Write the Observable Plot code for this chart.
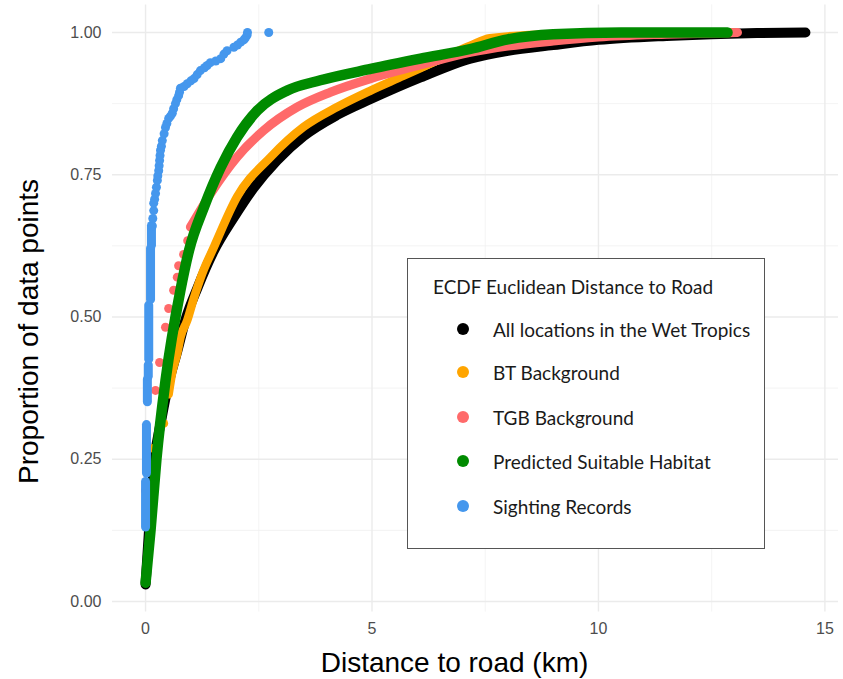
<!DOCTYPE html>
<html>
<head>
<meta charset="utf-8">
<script src="https://cdn.jsdelivr.net/npm/d3@7"></script>
<script src="https://cdn.jsdelivr.net/npm/@observablehq/plot@0.6"></script>
<style>
  body { margin: 0; background: #fff; }
  #wrap { position: relative; width: 843px; height: 679px; }
  #legend { position: absolute; left: 407px; top: 258px; width: 358px; height: 291px; box-sizing: border-box;
            border: 1px solid #555; background: #fff; font-family: Lato, "Open Sans", sans-serif; color: #1a1a1a; }
  #legend .t { position: absolute; left: 25px; font-size: 19px; line-height: 1; transform: translateY(-50%); white-space: nowrap; }
  #legend .k { position: absolute; left: 49px; width: 12px; height: 12px; border-radius: 50%; transform: translateY(-50%); }
  #legend .l { position: absolute; left: 85px; font-size: 19px; line-height: 1; transform: translateY(-50%); white-space: nowrap; }
</style>
</head>
<body>
<div id="wrap"></div>
<script>
// ---- data ----
const seriesNames = ["All locations in the Wet Tropics", "BT Background", "TGB Background", "Predicted Suitable Habitat", "Sighting Records"];
const seriesColors = ["#000000", "#FFA500", "#FF6A6A", "#008B00", "#4597ED"];
const legendTitle = "ECDF Euclidean Distance to Road";
const xTitle = "Distance to road (km)";
const yTitle = "Proportion of data points";

const xMajor = [0, 5, 10, 15];
const xMinor = [2.5, 7.5, 12.5];
const yMajor = [0, 0.25, 0.5, 0.75, 1];
const yMinor = [0.125, 0.375, 0.625, 0.875];
const xTickLabels = ["0", "5", "10", "15"];
const yTickLabels = ["0.00", "0.25", "0.50", "0.75", "1.00"];

// All locations in the Wet Tropics
const allX = [0, 0.08, 0.2, 0.35, 0.5, 0.7, 0.9, 1.14, 1.5, 1.95, 2.39, 2.9, 3.49, 4.23, 4.97, 6.07, 7.17, 8.0, 9.0, 10.0, 11.5, 12.5, 13.5, 14.57];
const allY = [0.03, 0.13, 0.25, 0.32, 0.38, 0.44, 0.5, 0.55, 0.615, 0.675, 0.727, 0.775, 0.818, 0.855, 0.883, 0.921, 0.954, 0.968, 0.978, 0.987, 0.994, 0.997, 0.999, 1.0];

// BT Background (dense part + sparse low points)
const btX = [0.51, 0.59, 0.7, 0.77, 0.92, 1.07, 1.25, 1.51, 2.02, 2.76, 3.49, 4.23, 4.97, 5.7, 6.44, 7.17, 7.6, 9.0, 11.0, 12.96];
const btY = [0.364, 0.403, 0.436, 0.464, 0.494, 0.534, 0.576, 0.623, 0.711, 0.781, 0.834, 0.869, 0.898, 0.924, 0.951, 0.977, 0.99, 0.997, 0.999, 1.0];
const btSparseX = [0.17, 0.40];
const btSparseY = [0.269, 0.313];

// TGB Background (dense part + sparse low points)
const tgbX = [0.99, 1.43, 2.02, 2.61, 3.35, 4.08, 4.97, 6.07, 7.17, 8.0, 9.0, 10.0, 11.5, 13.07];
const tgbY = [0.658, 0.716, 0.781, 0.828, 0.869, 0.895, 0.919, 0.943, 0.965, 0.976, 0.985, 0.992, 0.997, 1.0];
const tgbSparseX = [0.0, 0.22, 0.31, 0.44, 0.51, 0.62, 0.70, 0.73, 0.84, 0.93];
const tgbSparseY = [0.195, 0.371, 0.42, 0.482, 0.515, 0.547, 0.57, 0.59, 0.61, 0.634];

// Predicted Suitable Habitat
const psX = [0, 0.11, 0.24, 0.44, 0.77, 0.96, 1.29, 1.66, 2.02, 2.47, 3.13, 3.86, 4.97, 6.07, 7.17, 8.0, 9.0, 10.5, 12.85];
const psY = [0.033, 0.125, 0.25, 0.388, 0.547, 0.617, 0.693, 0.763, 0.816, 0.863, 0.898, 0.916, 0.936, 0.954, 0.971, 0.988, 0.997, 1.0, 1.0];

// Sighting Records: stacked runs near 0 km, then individual points
const srRunX = [0.0, 0.02, 0.04, 0.06, 0.07, 0.11, 0.13];
const srRunY1 = [0.13, 0.225, 0.35, 0.395, 0.425, 0.53, 0.625];
const srRunY2 = [0.21, 0.31, 0.39, 0.415, 0.52, 0.62, 0.66];
const srX = [0.15, 0.16, 0.18, 0.18, 0.2, 0.22, 0.24, 0.26, 0.27, 0.29, 0.3, 0.31, 0.32, 0.33, 0.35, 0.37, 0.41, 0.44, 0.47, 0.51, 0.55, 0.59, 0.62, 0.66, 0.69, 0.73, 0.75, 0.77, 0.85, 0.92, 1.0, 1.07, 1.14, 1.21, 1.3, 1.36, 1.43, 1.55, 1.66, 1.73, 1.8, 1.95, 2.03, 2.1, 2.17, 2.2, 2.24, 2.25, 2.72];
const srY = [0.66, 0.673, 0.687, 0.70, 0.707, 0.717, 0.728, 0.74, 0.748, 0.757, 0.766, 0.775, 0.784, 0.793, 0.80, 0.81, 0.822, 0.833, 0.84, 0.849, 0.853, 0.858, 0.866, 0.875, 0.882, 0.889, 0.895, 0.902, 0.905, 0.91, 0.915, 0.919, 0.926, 0.933, 0.938, 0.942, 0.947, 0.95, 0.954, 0.962, 0.968, 0.974, 0.978, 0.983, 0.987, 0.99, 0.995, 1.0, 1.0];

// ---- build tables ----
const pts = (xs, ys) => xs.map((x, i) => ({x, y: ys[i]}));
const allData = pts(allX, allY);
const btData = pts(btX, btY);
const btSparse = pts(btSparseX, btSparseY);
const tgbData = pts(tgbX, tgbY);
const tgbSparse = pts(tgbSparseX, tgbSparseY);
const psData = pts(psX, psY);
const srRuns = srRunX.map((x, i) => ({x, y1: srRunY1[i], y2: srRunY2[i]}));
const srData = pts(srX, srY);

const xFmt = d => xTickLabels[xMajor.indexOf(d)];
const yFmt = d => yTickLabels[yMajor.indexOf(d)];

const chart = Plot.plot({
  width: 843,
  height: 679,
  marginLeft: 112,
  marginRight: 5,
  marginTop: 4.4,
  marginBottom: 67.5,
  style: {fontFamily: "'Liberation Sans', Arial, sans-serif", color: "#4d4d4d", background: "#fff", overflow: "visible"},
  x: {domain: [-0.73, 15.3]},
  y: {domain: [-0.0185, 1.0485]},
  marks: [
    Plot.ruleX(xMinor, {stroke: "#f0f0f0", strokeWidth: 0.8}),
    Plot.ruleY(yMinor, {stroke: "#f0f0f0", strokeWidth: 0.8}),
    Plot.ruleX(xMajor, {stroke: "#ebebeb", strokeWidth: 1.4}),
    Plot.ruleY(yMajor, {stroke: "#ebebeb", strokeWidth: 1.4}),
    Plot.axisX({ticks: xMajor, tickFormat: xFmt, tickSize: 0, tickPadding: 11, fontSize: 16, label: null}),
    Plot.axisY({ticks: yMajor, tickFormat: yFmt, tickSize: 0, tickPadding: 11, fontSize: 16, label: null}),
    Plot.line(allData, {x: "x", y: "y", stroke: seriesColors[0], strokeWidth: 10, curve: "monotone-x"}),
    Plot.line(btData, {x: "x", y: "y", stroke: seriesColors[1], strokeWidth: 8.5, curve: "monotone-x"}),
    Plot.dot(btSparse, {x: "x", y: "y", fill: seriesColors[1], r: 4.5}),
    Plot.line(tgbData, {x: "x", y: "y", stroke: seriesColors[2], strokeWidth: 9, curve: "monotone-x"}),
    Plot.dot(tgbSparse, {x: "x", y: "y", fill: seriesColors[2], r: 4.5}),
    Plot.line(psData, {x: "x", y: "y", stroke: seriesColors[3], strokeWidth: 10.5, curve: "monotone-x"}),
    Plot.ruleX(srRuns, {x: "x", y1: "y1", y2: "y2", stroke: seriesColors[4], strokeWidth: 9, strokeLinecap: "round"}),
    Plot.dot(srData, {x: "x", y: "y", fill: seriesColors[4], r: 4.5}),
    Plot.text([xTitle], {text: d => d, frameAnchor: "bottom", textAnchor: "middle", dx: -21, dy: 51.5, lineAnchor: "middle", fontSize: 28, fill: "#000"}),
    Plot.text([yTitle], {text: d => d, frameAnchor: "left", textAnchor: "middle", rotate: -90, dx: -83, dy: 23, lineAnchor: "middle", fontSize: 28, fill: "#000"})
  ]
});
const wrap = document.getElementById("wrap");
wrap.appendChild(chart);

// legend box inside the panel
const lg = document.createElement("div");
lg.id = "legend";
const t = document.createElement("div");
t.className = "t"; t.style.top = "27px"; t.textContent = legendTitle;
lg.appendChild(t);
const rowTops = [70, 113, 158, 202, 247];
seriesNames.forEach((name, i) => {
  const k = document.createElement("div");
  k.className = "k"; k.style.top = rowTops[i] + "px"; k.style.background = seriesColors[i];
  lg.appendChild(k);
  const l = document.createElement("div");
  l.className = "l"; l.style.top = rowTops[i] + "px"; l.textContent = name;
  lg.appendChild(l);
});
wrap.appendChild(lg);
</script>
</body>
</html>
